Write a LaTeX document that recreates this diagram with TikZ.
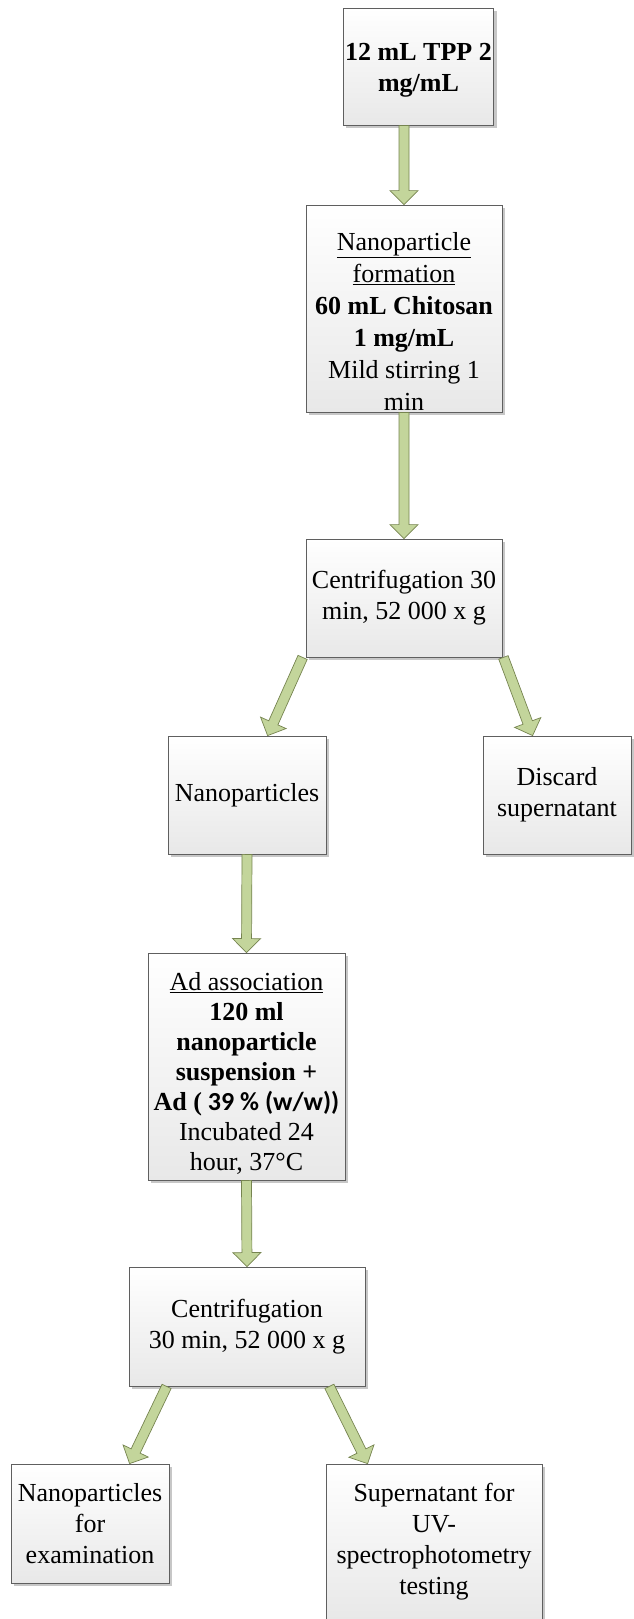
\documentclass[tikz,border=0pt]{standalone}
\usepackage{fontspec}
\setmainfont{Liberation Serif}
\newfontfamily\calibrifont{Carlito}
\usetikzlibrary{calc,shadows}
\definecolor{arrowfill}{RGB}{195,213,155}
\definecolor{arrowline}{RGB}{118,132,80}
\definecolor{boxline}{RGB}{95,95,95}
\tikzset{
  stepbox/.style={draw=boxline, line width=0.8pt, top color=white, bottom color=black!9,
    drop shadow={shadow xshift=3pt, shadow yshift=-3pt, fill=black!40, opacity=0.55},
    align=center, inner sep=2pt, font=\fontsize{26}{31}\selectfont},
  flowarrow/.style={fill=arrowfill, draw=arrowline, line width=0.7pt, line join=miter}
}
% block arrow from #1 to #2
\newcommand{\flowarrow}[2]{%
  \path (#2) coordinate (fa-tip) ($(#2)!14pt!(#1)$) coordinate (fa-neck);
  \draw[flowarrow] ($(#1)!5pt!90:(#2)$) -- ($(fa-neck)!5pt!90:(fa-tip)$)
    -- ($(fa-neck)!14pt!90:(fa-tip)$) -- (fa-tip) -- ($(fa-neck)!14pt!-90:(fa-tip)$)
    -- ($(fa-neck)!5pt!-90:(fa-tip)$) -- ($(#1)!5pt!-90:(#2)$) -- cycle;
}

\begin{document}
\begin{tikzpicture}[x=1pt,y=-1pt]
    \useasboundingbox (0,0) rectangle (634,1619);
    %boxes
    \node[stepbox, minimum width=129, minimum height=117] (tpp) at (418.5,66.5)
      {\rule{0pt}{24pt}\textbf{12 mL TPP 2}\\ \textbf{mg/mL}};
    \node[stepbox, minimum width=196, minimum height=207, inner ysep=0pt,
      font=\fontsize{26}{32}\selectfont] (form) at (404,308.5)
      {\rule{0pt}{44pt}\underline{Nanoparticle}\\ \underline{formation}\\ \textbf{60 mL Chitosan}\\
       \textbf{1 mg/mL}\\ Mild stirring 1\\ min};
    \node[stepbox, minimum width=196, minimum height=118] (cent1) at (404,598)
      {Centrifugation 30\\ min, 52 000 x g};
    \node[stepbox, minimum width=158, minimum height=118] (nano) at (247,795)
      {Nanoparticles};
    \node[stepbox, minimum width=148, minimum height=118] (discard) at (557,795)
      {Discard\\ supernatant};
    \node[stepbox, minimum width=197, minimum height=227, font=\fontsize{26}{30}\selectfont] (assoc) at (246.5,1066.5)
      {\rule{0pt}{32pt}\underline{Ad association}\\ \textbf{120 ml}\\ \textbf{nanoparticle}\\
       \textbf{suspension +}\\ \textbf{Ad (}{\calibrifont\bfseries\ 39 \% (w/w))}\\
       Incubated 24\\ hour, 37°C};
    \node[stepbox, minimum width=236, minimum height=119] (cent2) at (247,1326.5)
      {Centrifugation\\ 30 min, 52 000 x g};
    \node[stepbox, minimum width=158, minimum height=119] (exam) at (90,1523.5)
      {Nanoparticles\\ for\\ examination};
    \node[stepbox, minimum width=216, minimum height=156] (uv) at (434,1542)
      {Supernatant for\\ UV-\\ spectrophotometry\\ testing};
    %arrows
    \flowarrow{tpp.south -| form.north}{form.north}
    \flowarrow{form.south}{cent1.north}
    \flowarrow{$(cent1.south west)+(-3,0)$}{$(nano.north west)+(100,0)$}
    \flowarrow{$(cent1.south east)+(1,0)$}{$(discard.north west)+(50,0)$}
    \flowarrow{nano.south}{assoc.north}
    \flowarrow{assoc.south}{cent2.north}
    \flowarrow{$(cent2.south west)+(38,0)$}{$(exam.north west)+(119,0)$}
    \flowarrow{$(cent2.south east)+(-36,0)$}{$(uv.north west)+(42,0)$}
\end{tikzpicture}
\end{document}
